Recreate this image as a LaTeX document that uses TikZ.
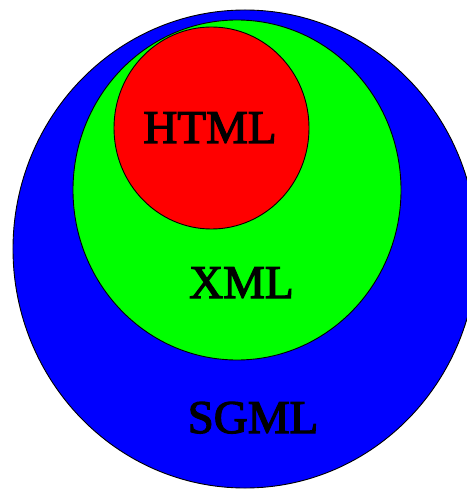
\documentclass[tikz,border=0pt]{standalone}
\usepackage{fontspec}
\setmainfont{Liberation Serif}
\newfontfamily\labelfont{Liberation Serif}[FakeBold=2.6]
\definecolor{sgmlblue}{RGB}{0,0,255}
\definecolor{xmlgreen}{RGB}{0,255,0}
\definecolor{htmlred}{RGB}{255,0,0}
\tikzset{
  setshape/.style={draw=black, line width=0.9bp},
  setlabel/.style={inner sep=0pt, font=\labelfont\fontsize{47bp}{50bp}\selectfont, text=black, anchor=base}
}
\begin{document}
\begin{tikzpicture}[x=1bp,y=-1bp]
  \useasboundingbox (0,0) rectangle (467,489);
  \clip (0,0) rectangle (467,489);
  \coordinate (sgmlc) at (245,249);
  \coordinate (xmlc) at (237,190);
  \coordinate (htmlc) at (211.5,128);
  \fill[white] (0,0) rectangle (467,489);
  \draw[setshape, fill=sgmlblue] (sgmlc) ellipse [x radius=232bp, y radius=239bp];
  \draw[setshape, fill=xmlgreen] (xmlc) ellipse [x radius=164bp, y radius=170bp];
  \draw[setshape, fill=htmlred] (htmlc) ellipse [x radius=97.5bp, y radius=101bp];
  \node[setlabel] (html) at (210,143) {HTML};
  \node[setlabel] (xml) at (241.5,298) {XML};
  \node[setlabel] (sgml) at (253,433) {SGML};
\end{tikzpicture}
\end{document}
